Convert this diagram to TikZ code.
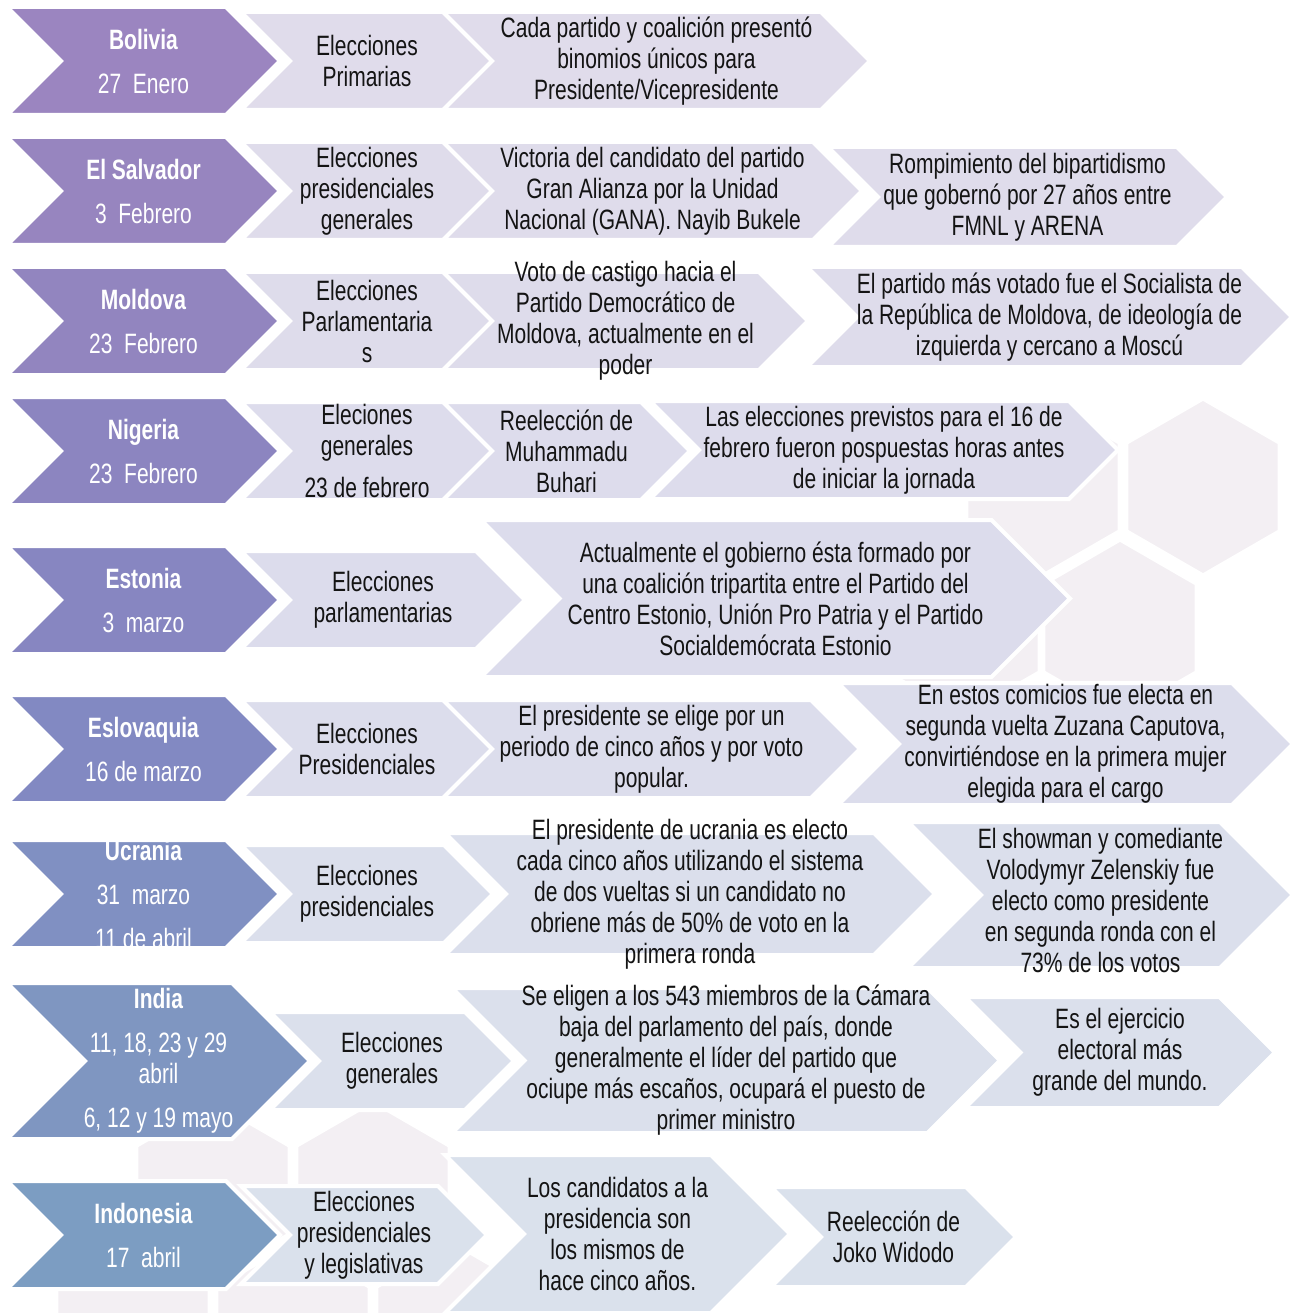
\documentclass[tikz,border=0pt]{standalone}
\usepackage{fontspec}
\setmainfont{Liberation Sans}[FakeStretch=0.75]
\usepackage{xcolor}
\usepackage{tikz}
\usetikzlibrary{calc}

% row colours, purple to blue
\definecolor{pr1}{RGB}{155,133,192}
\definecolor{pr2}{RGB}{151,133,191}
\definecolor{pr3}{RGB}{146,133,191}
\definecolor{pr4}{RGB}{140,133,192}
\definecolor{pr5}{RGB}{135,134,193}
\definecolor{pr6}{RGB}{130,137,194}
\definecolor{pr7}{RGB}{128,144,194}
\definecolor{pr8}{RGB}{127,150,193}
\definecolor{pr9}{RGB}{124,157,194}
\definecolor{lt1}{RGB}{224,220,235}
\definecolor{lt2}{RGB}{223,220,235}
\definecolor{lt3}{RGB}{222,220,235}
\definecolor{lt4}{RGB}{221,220,236}
\definecolor{lt5}{RGB}{220,220,236}
\definecolor{lt6}{RGB}{220,221,236}
\definecolor{lt7}{RGB}{219,223,236}
\definecolor{lt8}{RGB}{219,224,236}
\definecolor{lt9}{RGB}{218,225,236}
\definecolor{hexfill}{RGB}{243,239,243}
\definecolor{txt}{RGB}{20,20,20}

\tikzset{
  chevbox/.style={draw=white, line width=4pt, line join=miter},
  hexbg/.style={fill=hexfill, draw=white, line width=5pt},
  ctry/.style={text=white, align=center, font=\fontsize{28}{44}\selectfont},
  lbl/.style={text=txt, align=center, font=\fontsize{28}{31}\selectfont},
}

% chevron: name, left, tip, top, bottom, fill
\newcommand{\chev}[6]{%
  \pgfmathsetmacro{\hh}{(#5-#4)/2}%
  \filldraw[chevbox, fill=#6] (#2,#4) -- ({#3-\hh},#4) -- (#3,{#4+\hh}) -- ({#3-\hh},#5) -- (#2,#5) -- ({#2+\hh},{#4+\hh}) -- cycle;
  \coordinate (#1) at ({(#2+#3)/2},{#4+\hh});
}

\begin{document}
\begin{tikzpicture}[x=1pt, y=-1pt]
\useasboundingbox (0,0) rectangle (1293,1313);

% background honeycomb
\foreach \cx/\cy in {1203/487, 1043/487, 1120/628, 963/628, 213/1190, 373/1190, 133/1331, 293/1331, 453/1331}
  \filldraw[hexbg] (\cx,\cy) +(30:89) -- +(90:89) -- +(150:89) -- +(210:89) -- +(270:89) -- +(330:89) -- cycle;

% Bolivia
\chev{bo0}{7}{280}{7}{115}{pr1}
\chev{bo1}{241}{493}{12}{110}{lt1}
\chev{bo2}{443}{870}{12}{110}{lt1}
\node[ctry] (bo0t) at (bo0) {\textbf{Bolivia}\\27~~Enero};
\node[lbl] (bo1t) at (bo1) {Elecciones\\Primarias};
\node[lbl] (bo2t) at (bo2) {Cada partido y coalición presentó\\binomios únicos para\\Presidente/Vicepresidente};

% El Salvador
\chev{sa0}{7}{280}{137}{245}{pr2}
\chev{sa1}{241}{493}{142}{240}{lt2}
\chev{sa2}{443}{862}{142}{240}{lt2}
\chev{sa3}{828}{1227}{147}{247}{lt2}
\node[ctry] (sa0t) at (sa0) {\textbf{El Salvador}\\3~~Febrero};
\node[lbl] (sa1t) at (sa1) {Elecciones\\presidenciales\\generales};
\node[lbl] (sa2t) at (sa2) {Victoria del candidato del partido\\Gran Alianza por la Unidad\\Nacional (GANA). Nayib Bukele};
\node[lbl] (sa3t) at (sa3) {Rompimiento del bipartidismo\\que gobernó por 27 años entre\\FMNL y ARENA};

% Moldova
\chev{mo0}{7}{280}{267}{375}{pr3}
\chev{mo1}{241}{493}{272}{370}{lt3}
\chev{mo2}{443}{808}{272}{370}{lt3}
\chev{mo3}{807}{1292}{267}{367}{lt3}
\node[ctry] (mo0t) at (mo0) {\textbf{Moldova}\\23~~Febrero};
\node[lbl] (mo1t) at (mo1) {Elecciones\\Parlamentaria\\s};
\node[lbl] (mo2t) at (mo2) {Voto de castigo hacia el\\Partido Democrático de\\Moldova, actualmente en el\\poder};
\node[lbl] (mo3t) at (mo3) {El partido más votado fue el Socialista de\\la República de Moldova, de ideología de\\izquierda y cercano a Moscú};

% Nigeria
\chev{ni0}{7}{280}{397}{505}{pr4}
\chev{ni1}{241}{493}{402}{500}{lt4}
\chev{ni2}{443}{690}{402}{500}{lt4}
\chev{ni3}{650}{1118}{401}{499}{lt4}
\node[ctry] (ni0t) at (ni0) {\textbf{Nigeria}\\23~~Febrero};
\node[lbl] (ni1t) at (ni1) {Eleciones\\generales\\[11pt]23 de febrero};
\node[lbl] (ni2t) at (ni2) {Reelección de\\Muhammadu\\Buhari};
\node[lbl] (ni3t) at (ni3) {Las elecciones previstos para el 16 de\\febrero fueron pospuestas horas antes\\de iniciar la jornada};

% Estonia
\chev{es0}{7}{280}{546}{654}{pr5}
\chev{es1}{241}{525}{551}{649}{lt5}
\chev{es2}{481}{1070}{520}{677}{lt5}
\node[ctry] (es0t) at (es0) {\textbf{Estonia}\\3~~marzo};
\node[lbl] (es1t) at (es1) {Elecciones\\parlamentarias};
\node[lbl] (es2t) at (es2) {Actualmente el gobierno ésta formado por\\una coalición tripartita entre el Partido del\\Centro Estonio, Unión Pro Patria y el Partido\\Socialdemócrata Estonio};

% Eslovaquia
\chev{sk0}{7}{280}{695}{803}{pr6}
\chev{sk1}{241}{493}{700}{798}{lt6}
\chev{sk2}{443}{860}{700}{798}{lt6}
\chev{sk3}{838}{1293}{683}{805}{lt6}
\node[ctry] (sk0t) at (sk0) {\textbf{Eslovaquia}\\16 de marzo};
\node[lbl] (sk1t) at (sk1) {Elecciones\\Presidenciales};
\node[lbl] (sk2t) at (sk2) {El presidente se elige por un\\periodo de cinco años y por voto\\popular.};
\node[lbl] (sk3t) at (sk3) {En estos comicios fue electa en\\segunda vuelta Zuzana Caputova,\\convirtiéndose en la primera mujer\\elegida para el cargo};

% Ucrania
\chev{uc0}{7}{280}{840}{948}{pr7}
\chev{uc1}{241}{493}{845}{943}{lt7}
\chev{uc2}{445}{935}{833}{955}{lt7}
\chev{uc3}{908}{1293}{822}{968}{lt7}
\node[ctry] (uc0t) at (uc0) {\textbf{Ucrania}\\31~~marzo\\11 de abril};
\node[lbl] (uc1t) at (uc1) {Elecciones\\presidenciales};
\node[lbl] (uc2t) at (uc2) {El presidente de ucrania es electo\\cada cinco años utilizando el sistema\\de dos vueltas si un candidato no\\obriene más de 50\% de voto en la\\primera ronda};
\node[lbl] (uc3t) at ([yshift=-5pt]uc3) {El showman y comediante\\Volodymyr Zelenskiy fue\\electo como presidente\\en segunda ronda con el\\73\% de los votos};

% India
\chev{in0}{7}{310}{983}{1139}{pr8}
\chev{in1}{270}{514}{1012}{1110}{lt8}
\chev{in2}{452}{1000}{988}{1133}{lt8}
\chev{in3}{965}{1275}{997}{1108}{lt8}
\node[ctry] (in0t) at (in0) {\textbf{India}\\11, 18, 23 y 29\\[-13pt]abril\\6, 12 y 19 mayo};
\node[lbl] (in1t) at (in1) {Elecciones\\generales};
\node[lbl] (in2t) at (in2) {Se eligen a los 543 miembros de la Cámara\\baja del parlamento del país, donde\\generalmente el líder del partido que\\ociupe más escaños, ocupará el puesto de\\primer ministro};
\node[lbl] (in3t) at (in3) {Es el ejercicio\\electoral más\\grande del mundo.};

% Indonesia
\chev{id0}{7}{280}{1181}{1289}{pr9}
\chev{id1}{241}{487}{1186}{1284}{lt9}
\chev{id2}{445}{790}{1155}{1313}{lt9}
\chev{id3}{771}{1016}{1187}{1287}{lt9}
\node[ctry] (id0t) at (id0) {\textbf{Indonesia}\\17~~abril};
\node[lbl] (id1t) at (id1) {Elecciones\\presidenciales\\y legislativas};
\node[lbl] (id2t) at (id2) {Los candidatos a la\\presidencia son\\los mismos de\\hace cinco años.};
\node[lbl] (id3t) at (id3) {Reelección de\\Joko Widodo};

\end{tikzpicture}
\end{document}
